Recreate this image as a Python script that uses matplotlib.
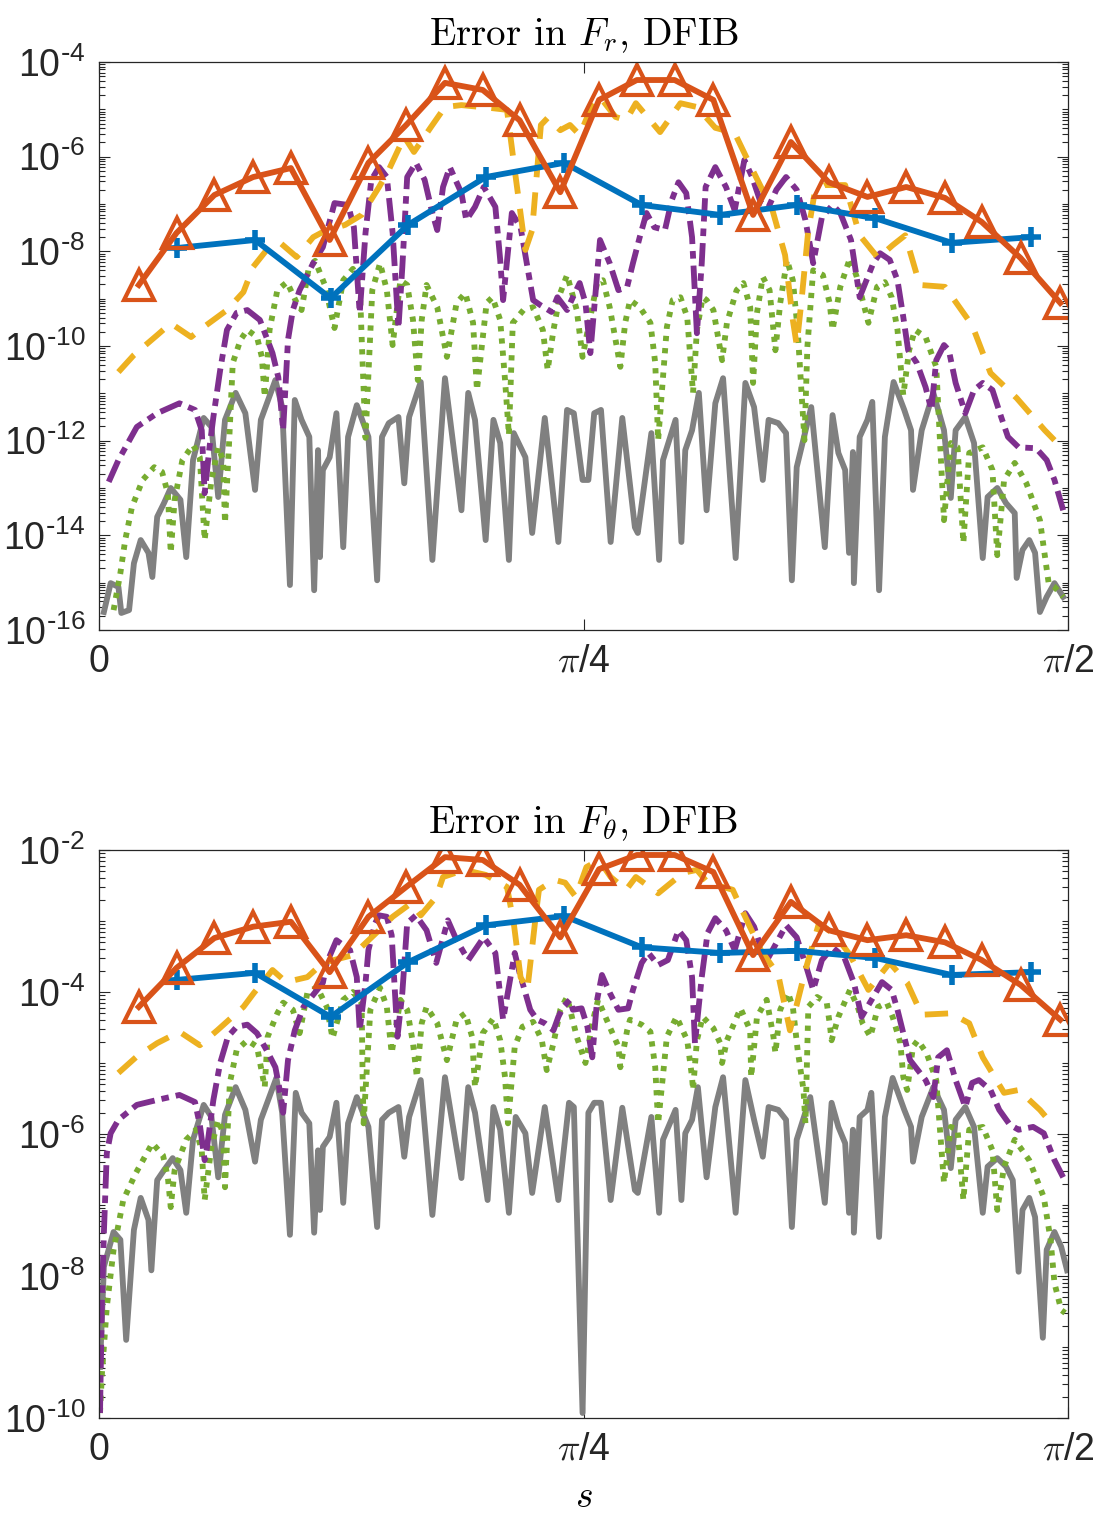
import numpy as np
import matplotlib.pyplot as plt
from matplotlib.ticker import FixedLocator, NullFormatter

plt.rcParams['font.family'] = ['Liberation Sans', 'DejaVu Sans']

# x values are fractions of pi/2, y values are log10 of the error

# ---- top panel: error in F_r ----
f_gray_r = [0.005,0.012,0.020,0.023,0.031,0.036,0.043,0.051,0.055,0.060,
            0.067,0.074,0.084,0.090,0.097,0.108,0.116,0.123,0.130,0.141,
            0.151,0.161,0.167,0.182,0.189,0.197,0.202,0.209,0.217,0.222,
            0.226,0.228,0.231,0.238,0.245,0.252,0.257,0.266,0.278,0.287,
            0.292,0.299,0.309,0.315,0.320,0.332,0.344,0.357,0.374,0.381,
            0.388,0.399,0.407,0.414,0.423,0.428,0.440,0.447,0.460,0.474,
            0.483,0.490,0.499,0.505,0.511,0.518,0.528,0.540,0.553,0.556,
            0.570,0.578,0.582,0.595,0.601,0.605,0.612,0.619,0.627,0.636,
            0.644,0.657,0.667,0.676,0.685,0.691,0.701,0.709,0.715,0.720,
            0.735,0.749,0.757,0.763,0.770,0.774,0.778,0.779,0.785,0.793,
            0.798,0.805,0.811,0.820,0.831,0.838,0.840,0.849,0.861,0.872,
            0.879,0.884,0.894,0.903,0.912,0.917,0.927,0.936,0.945,0.947,
            0.953,0.960,0.966,0.971,0.978,0.986,0.995]
lg_gray_r = [-15.62,-15.01,-15.09,-15.64,-15.58,-14.59,-14.10,-14.37,-14.88,-13.61,
             -13.32,-13.00,-13.25,-14.46,-12.41,-11.52,-11.71,-13.19,-11.56,-10.99,
             -11.42,-13.04,-11.56,-10.72,-11.29,-15.05,-11.14,-11.56,-11.92,-15.16,
             -12.20,-14.46,-12.62,-12.35,-11.42,-14.25,-11.92,-11.25,-11.92,-14.95,
             -11.92,-11.63,-11.50,-12.90,-11.50,-10.76,-14.52,-10.68,-13.47,-10.99,
             -11.56,-14.10,-11.56,-12.05,-14.52,-11.84,-12.35,-13.95,-11.52,-14.14,
             -11.35,-11.42,-12.83,-12.83,-11.42,-11.35,-14.14,-11.52,-13.83,-13.95,
             -11.84,-14.52,-12.41,-11.56,-14.14,-12.20,-11.78,-10.99,-13.47,-11.21,
             -10.68,-14.48,-10.78,-11.29,-12.83,-11.56,-11.63,-11.84,-14.95,-12.56,
             -11.29,-14.25,-11.46,-12.26,-12.62,-14.37,-12.24,-15.01,-11.92,-11.56,
             -11.18,-15.16,-11.92,-10.76,-11.35,-11.78,-13.04,-11.78,-10.99,-11.78,
             -13.21,-11.78,-11.50,-12.05,-14.48,-13.19,-13.00,-13.32,-13.53,-14.90,
             -14.31,-14.10,-14.37,-15.62,-15.30,-15.01,-15.30]

f_green_r = [0.015,0.022,0.027,0.034,0.045,0.057,0.065,0.071,0.074,0.078,
             0.086,0.097,0.104,0.109,0.116,0.123,0.128,0.130,0.134,0.138,
             0.146,0.153,0.163,0.168,0.171,0.176,0.184,0.194,0.204,0.209,
             0.216,0.223,0.233,0.243,0.252,0.262,0.269,0.272,0.275,0.282,
             0.290,0.297,0.303,0.311,0.318,0.324,0.329,0.333,0.338,0.349,
             0.359,0.369,0.378,0.386,0.390,0.400,0.406,0.414,0.419,0.423,
             0.427,0.438,0.448,0.458,0.463,0.469,0.476,0.483,0.493,0.499,
             0.507,0.514,0.520,0.527,0.538,0.543,0.548,0.558,0.569,0.574,
             0.577,0.586,0.592,0.600,0.607,0.613,0.617,0.623,0.627,0.634,
             0.643,0.648,0.658,0.665,0.672,0.675,0.679,0.685,0.692,0.698,
             0.703,0.710,0.716,0.721,0.728,0.731,0.737,0.747,0.754,0.757,
             0.765,0.775,0.782,0.788,0.794,0.803,0.811,0.818,0.824,0.830,
             0.836,0.842,0.853,0.864,0.872,0.879,0.886,0.892,0.898,0.912,
             0.922,0.927,0.934,0.945,0.957,0.971,0.980,0.986,0.995]
lg_green_r = [-15.58,-14.80,-14.10,-13.40,-12.83,-12.56,-12.66,-13.11,-14.37,-13.25,
              -12.41,-12.09,-12.35,-14.10,-12.83,-12.14,-12.41,-13.74,-12.14,-10.36,
              -9.87,-9.66,-9.81,-10.23,-11.08,-9.66,-8.82,-8.65,-9.09,-9.24,
              -8.40,-8.20,-8.71,-9.62,-8.61,-8.37,-8.67,-10.36,-11.94,-8.82,
              -8.25,-8.82,-9.98,-8.61,-8.71,-9.45,-10.72,-9.45,-8.71,-9.18,
              -10.23,-9.09,-8.88,-9.51,-10.93,-9.09,-8.97,-9.45,-10.72,-11.88,
              -9.51,-9.24,-9.18,-9.66,-10.51,-9.66,-8.88,-8.50,-9.24,-10.23,
              -9.39,-8.67,-8.61,-9.18,-10.44,-9.51,-9.03,-9.18,-9.51,-10.36,
              -11.99,-9.60,-9.03,-8.97,-9.39,-10.99,-9.66,-8.97,-9.03,-9.24,
              -10.30,-9.51,-8.82,-8.67,-9.18,-10.78,-9.30,-8.54,-8.82,-10.09,
              -9.09,-8.18,-8.61,-9.66,-11.99,-10.02,-8.40,-8.50,-9.09,-9.66,
              -8.75,-8.14,-8.54,-9.03,-9.51,-8.75,-8.65,-8.97,-9.66,-11.04,
              -10.09,-9.66,-9.81,-10.44,-13.68,-12.05,-12.14,-14.16,-12.26,-12.14,
              -12.62,-14.42,-12.83,-12.47,-12.90,-13.68,-15.01,-15.09,-15.30]

f_purple_r = [0.010,0.020,0.039,0.060,0.083,0.099,0.106,0.109,0.114,0.118,
              0.125,0.132,0.142,0.153,0.166,0.179,0.185,0.190,0.195,0.200,
              0.207,0.221,0.231,0.243,0.257,0.263,0.269,0.275,0.281,0.289,
              0.297,0.303,0.309,0.313,0.318,0.327,0.336,0.344,0.349,0.355,
              0.362,0.374,0.379,0.388,0.397,0.409,0.414,0.417,0.426,0.435,
              0.448,0.455,0.467,0.473,0.483,0.489,0.496,0.502,0.507,0.512,
              0.517,0.527,0.536,0.545,0.551,0.558,0.565,0.573,0.584,0.591,
              0.598,0.606,0.612,0.617,0.622,0.626,0.636,0.647,0.656,0.666,
              0.674,0.683,0.691,0.699,0.709,0.720,0.729,0.737,0.746,0.757,
              0.765,0.776,0.785,0.799,0.806,0.816,0.824,0.830,0.835,0.844,
              0.853,0.859,0.864,0.872,0.877,0.884,0.894,0.903,0.912,0.922,
              0.931,0.938,0.949,0.967,0.978,0.986,0.995]
lg_purple_r = [-12.87,-12.41,-11.71,-11.42,-11.21,-11.35,-11.78,-13.11,-12.14,-11.50,
               -10.51,-9.66,-9.30,-9.24,-9.45,-10.15,-10.66,-11.78,-9.87,-9.24,
               -8.82,-8.25,-7.91,-6.98,-7.02,-7.49,-9.30,-7.61,-6.49,-6.22,
               -6.43,-7.61,-9.62,-8.33,-6.43,-6.13,-6.49,-7.19,-7.55,-6.64,
               -6.22,-6.77,-7.34,-7.06,-6.64,-7.06,-8.18,-9.03,-7.19,-7.49,
               -9.03,-9.13,-9.28,-8.97,-9.24,-8.97,-8.67,-9.09,-10.15,-8.97,
               -7.76,-8.25,-8.82,-8.75,-8.25,-7.70,-7.19,-7.49,-7.55,-6.92,
               -6.54,-6.77,-7.70,-9.73,-8.25,-6.64,-6.22,-6.64,-7.13,-6.07,
               -6.43,-6.98,-7.06,-6.70,-6.43,-6.70,-7.34,-8.25,-7.28,-7.02,
               -7.19,-7.76,-8.97,-8.25,-8.04,-8.18,-8.61,-9.39,-10.09,-10.36,
               -10.87,-11.35,-10.30,-9.98,-10.09,-10.78,-11.42,-10.93,-10.78,-10.93,
               -11.50,-11.92,-12.14,-12.16,-12.41,-12.83,-13.47]

f_yellow_r = [0.020,0.036,0.060,0.074,0.095,0.104,0.132,0.149,0.159,0.173,
              0.187,0.204,0.221,0.231,0.254,0.271,0.289,0.299,0.315,0.325,
              0.342,0.357,0.374,0.404,0.421,0.429,0.440,0.447,0.456,0.463,
              0.476,0.486,0.496,0.507,0.517,0.533,0.544,0.554,0.579,0.600,
              0.617,0.636,0.656,0.672,0.695,0.708,0.716,0.720,0.725,0.732,
              0.739,0.749,0.770,0.785,0.804,0.819,0.832,0.847,0.873,0.901,
              0.920,0.947,0.976,0.986]
lg_yellow_r = [-10.55,-10.19,-9.77,-9.52,-9.81,-9.66,-9.24,-8.86,-8.33,-7.97,
               -7.82,-8.12,-7.70,-7.59,-7.44,-7.23,-6.64,-6.28,-5.58,-5.90,
               -5.39,-4.95,-4.91,-4.97,-5.01,-6.28,-7.97,-7.55,-5.33,-5.18,
               -5.44,-5.33,-5.54,-5.01,-4.74,-5.16,-5.23,-4.87,-5.48,-4.87,
               -4.95,-5.39,-5.50,-6.18,-7.13,-8.08,-9.45,-9.98,-9.03,-7.55,
               -6.70,-6.60,-6.60,-7.66,-8.14,-7.87,-7.66,-8.71,-8.75,-9.56,
               -10.57,-11.10,-11.78,-11.99]

f_blue = [0.080,0.161,0.239,0.319,0.399,0.480,0.560,0.641,0.720,0.801,0.880,0.962]
lg_blue_r = [-7.93,-7.76,-8.99,-7.44,-6.43,-6.13,-7.02,-7.23,-7.02,-7.30,-7.82,-7.70]

f_tri = [0.041,0.080,0.119,0.159,0.198,0.238,0.278,0.317,0.357,0.396,0.434,0.476,0.516,
         0.555,0.594,0.634,0.675,0.714,0.753,0.793,0.833,0.873,0.911,0.951,0.992]
lg_tri_r = [-8.71,-7.61,-6.81,-6.43,-6.24,-7.76,-6.13,-5.33,-4.44,-4.59,-5.23,-6.75,-4.80,
            -4.38,-4.38,-4.80,-7.23,-5.69,-6.54,-6.85,-6.64,-6.87,-7.38,-8.14,-9.09]

# ---- bottom panel: error in F_theta ----
f_gray_t = [0.001,0.005,0.015,0.022,0.028,0.036,0.043,0.051,0.054,0.060,
            0.067,0.076,0.084,0.090,0.097,0.108,0.116,0.123,0.130,0.141,
            0.151,0.161,0.167,0.183,0.189,0.197,0.203,0.209,0.217,0.222,
            0.226,0.228,0.231,0.238,0.245,0.252,0.257,0.266,0.278,0.287,
            0.292,0.299,0.309,0.315,0.320,0.332,0.344,0.357,0.374,0.381,
            0.388,0.401,0.407,0.414,0.423,0.430,0.440,0.447,0.460,0.474,
            0.485,0.490,0.499,0.505,0.511,0.518,0.528,0.540,0.553,0.556,
            0.570,0.578,0.582,0.595,0.601,0.605,0.612,0.618,0.627,0.636,
            0.644,0.657,0.667,0.676,0.685,0.691,0.701,0.709,0.715,0.720,
            0.734,0.749,0.756,0.763,0.770,0.774,0.778,0.779,0.785,0.793,
            0.797,0.805,0.811,0.819,0.831,0.838,0.840,0.849,0.861,0.872,
            0.879,0.884,0.894,0.903,0.912,0.917,0.927,0.936,0.943,0.949,
            0.953,0.960,0.966,0.974,0.978,0.986,0.993,0.999]
lg_gray_t = [-9.28,-7.87,-7.38,-7.49,-8.90,-7.35,-6.90,-7.21,-7.92,-6.65,
             -6.51,-6.34,-6.51,-7.11,-6.08,-5.59,-5.76,-6.61,-5.73,-5.34,
             -5.66,-6.39,-5.80,-5.21,-5.70,-7.42,-5.42,-5.70,-5.85,-7.39,
             -6.23,-7.07,-6.18,-6.04,-5.56,-6.97,-5.85,-5.48,-5.90,-7.31,
             -5.80,-5.70,-5.62,-6.32,-5.76,-5.24,-7.14,-5.20,-6.62,-5.34,
             -5.70,-6.93,-5.62,-5.94,-7.11,-5.76,-5.99,-6.83,-5.62,-6.93,
             -5.56,-5.62,-9.93,-5.70,-5.56,-5.56,-6.93,-5.63,-6.79,-6.83,
             -5.76,-7.11,-6.08,-5.66,-6.93,-5.99,-5.80,-5.34,-6.61,-5.62,
             -5.20,-7.11,-5.24,-5.80,-6.32,-5.62,-5.66,-5.80,-7.31,-6.08,
             -5.48,-6.97,-5.56,-5.90,-6.13,-7.11,-5.94,-7.39,-5.76,-5.66,
             -5.42,-7.45,-5.76,-5.21,-5.66,-5.90,-6.39,-5.76,-5.34,-5.66,
             -6.48,-5.80,-5.62,-5.90,-7.11,-6.46,-6.34,-6.46,-6.65,-7.94,
             -7.07,-6.90,-7.17,-8.87,-7.63,-7.38,-7.59,-7.92]

f_green_t = [0.001,0.003,0.008,0.015,0.025,0.038,0.055,0.066,0.071,0.074,
             0.078,0.090,0.100,0.106,0.109,0.116,0.123,0.128,0.130,0.135,
             0.142,0.153,0.163,0.169,0.171,0.174,0.184,0.190,0.200,0.207,
             0.215,0.225,0.235,0.241,0.252,0.262,0.271,0.272,0.273,0.280,
             0.290,0.297,0.302,0.311,0.318,0.324,0.328,0.333,0.338,0.349,
             0.359,0.369,0.378,0.385,0.388,0.396,0.407,0.414,0.419,0.422,
             0.429,0.437,0.448,0.457,0.462,0.469,0.476,0.483,0.493,0.502,
             0.509,0.515,0.527,0.536,0.538,0.545,0.548,0.560,0.569,0.574,
             0.577,0.586,0.596,0.607,0.612,0.613,0.617,0.623,0.634,0.641,
             0.643,0.648,0.662,0.672,0.673,0.679,0.689,0.696,0.698,0.703,
             0.711,0.716,0.721,0.727,0.729,0.732,0.741,0.751,0.754,0.756,
             0.763,0.775,0.783,0.788,0.796,0.804,0.813,0.819,0.827,0.830,
             0.834,0.840,0.845,0.854,0.864,0.872,0.879,0.886,0.892,0.898,
             0.912,0.922,0.927,0.934,0.945,0.960,0.975,0.982,0.986,0.993,0.997]
lg_green_t = [-9.93,-9.37,-8.44,-7.63,-6.93,-6.55,-6.13,-6.30,-6.61,-7.03,
              -6.51,-6.08,-5.94,-6.23,-6.93,-6.18,-5.80,-5.99,-6.75,-5.28,
              -4.82,-4.68,-4.77,-5.20,-5.34,-4.63,-4.30,-4.15,-4.25,-4.58,
              -4.01,-3.93,-4.21,-4.65,-4.11,-4.00,-4.15,-5.20,-5.85,-4.25,
              -3.94,-4.21,-4.86,-4.11,-4.25,-4.72,-5.20,-4.44,-4.21,-4.44,
              -4.96,-4.39,-4.30,-4.63,-5.34,-4.58,-4.37,-4.68,-5.20,-5.85,
              -4.77,-4.49,-4.42,-4.68,-5.10,-4.72,-4.25,-4.07,-4.63,-5.00,
              -4.44,-4.11,-4.49,-4.77,-5.06,-4.54,-4.39,-4.46,-4.56,-5.06,
              -5.85,-4.63,-4.35,-4.68,-5.20,-5.38,-4.68,-4.35,-4.51,-4.72,
              -5.00,-4.68,-4.23,-4.54,-5.20,-4.35,-4.11,-4.63,-4.86,-4.25,
              -4.01,-4.21,-4.82,-5.38,-5.85,-4.21,-4.07,-4.15,-4.44,-4.68,
              -4.35,-3.97,-4.21,-4.44,-4.63,-4.21,-4.15,-4.35,-4.72,-5.20,
              -5.38,-4.77,-4.68,-4.86,-5.24,-6.69,-5.90,-5.94,-6.93,-5.94,
              -5.90,-6.23,-7.07,-6.46,-6.08,-6.37,-6.89,-7.49,-8.10,-8.48,-8.52]

f_purple_t = [0.001,0.003,0.005,0.008,0.012,0.020,0.039,0.060,0.083,0.099,
              0.104,0.109,0.111,0.118,0.125,0.133,0.142,0.153,0.163,0.173,
              0.182,0.187,0.190,0.195,0.202,0.211,0.225,0.231,0.235,0.245,
              0.259,0.266,0.269,0.275,0.278,0.285,0.289,0.297,0.302,0.308,
              0.313,0.318,0.327,0.338,0.348,0.360,0.369,0.381,0.388,0.397,
              0.409,0.417,0.429,0.434,0.445,0.452,0.460,0.469,0.474,0.479,
              0.486,0.489,0.498,0.504,0.509,0.514,0.519,0.527,0.536,0.546,
              0.551,0.560,0.567,0.577,0.587,0.598,0.606,0.612,0.615,0.622,
              0.628,0.636,0.647,0.656,0.667,0.676,0.683,0.691,0.709,0.720,
              0.730,0.737,0.746,0.757,0.769,0.779,0.787,0.799,0.808,0.818,
              0.824,0.830,0.837,0.845,0.853,0.861,0.866,0.875,0.884,0.894,
              0.901,0.908,0.920,0.929,0.940,0.949,0.964,0.975,0.986,0.995]
lg_purple_t = [-9.93,-8.34,-7.39,-6.27,-5.99,-5.80,-5.59,-5.52,-5.45,-5.55,
               -5.87,-6.37,-6.23,-5.52,-5.00,-4.63,-4.49,-4.46,-4.58,-4.82,
               -5.06,-5.42,-5.70,-4.96,-4.54,-4.21,-3.97,-3.87,-3.59,-3.27,
               -3.41,-3.79,-4.54,-3.87,-3.41,-3.03,-2.92,-2.94,-3.20,-4.63,
               -4.01,-3.03,-2.92,-3.13,-3.59,-2.99,-3.27,-3.55,-3.41,-3.23,
               -3.45,-4.39,-3.45,-3.73,-4.25,-4.39,-4.44,-4.54,-4.35,-4.21,
               -4.11,-4.25,-4.23,-4.49,-4.92,-4.11,-3.76,-4.01,-4.25,-4.23,
               -3.97,-3.59,-3.45,-3.62,-3.55,-3.13,-3.27,-3.79,-4.72,-3.79,
               -3.17,-2.96,-3.13,-3.41,-2.89,-3.08,-3.37,-3.51,-3.06,-3.23,
               -3.65,-3.97,-3.55,-3.37,-3.51,-3.87,-4.35,-4.07,-3.86,-3.97,
               -4.25,-4.58,-4.96,-5.10,-5.24,-5.48,-4.92,-4.82,-5.24,-5.62,
               -5.28,-5.24,-5.38,-5.66,-5.87,-5.94,-5.90,-5.99,-6.37,-6.61]

f_yellow_t = [0.020,0.038,0.060,0.083,0.104,0.122,0.149,0.160,0.179,0.193,
              0.215,0.231,0.262,0.289,0.303,0.322,0.332,0.348,0.355,0.377,
              0.399,0.421,0.428,0.435,0.442,0.451,0.454,0.470,0.481,0.492,
              0.503,0.516,0.528,0.544,0.554,0.577,0.603,0.617,0.628,0.654,
              0.662,0.683,0.701,0.713,0.720,0.729,0.743,0.760,0.775,0.794,
              0.816,0.834,0.849,0.879,0.898,0.912,0.934,0.949,0.971,0.986]
lg_yellow_t = [-5.14,-4.92,-4.72,-4.56,-4.75,-4.54,-4.21,-4.01,-3.69,-3.86,
               -3.79,-3.59,-3.48,-3.13,-2.94,-2.75,-2.92,-2.66,-2.38,-2.28,
               -2.35,-2.52,-3.03,-3.79,-3.97,-2.89,-2.56,-2.42,-2.46,-2.66,
               -2.24,-2.14,-2.38,-2.56,-2.38,-2.61,-2.32,-2.28,-2.46,-2.56,
               -2.80,-3.41,-3.76,-4.54,-4.18,-3.69,-3.03,-3.20,-3.48,-3.97,
               -3.59,-3.87,-4.32,-4.30,-4.44,-4.92,-5.42,-5.38,-5.66,-5.90]

lg_blue_t = [-3.83,-3.73,-4.35,-3.58,-3.06,-2.93,-3.37,-3.45,-3.42,-3.52,-3.76,-3.72]
lg_tri_t = [-4.21,-3.66,-3.24,-3.08,-3.01,-3.72,-2.94,-2.52,-2.10,-2.14,-2.49,-3.23,-2.27,
            -2.07,-2.07,-2.31,-3.48,-2.73,-3.13,-3.27,-3.20,-3.30,-3.55,-3.90,-4.39]

blue = '#0072BD'
orange = '#D95319'
yellow = '#EDB120'
purple = '#7E2F8E'
green = '#77AC30'
gray = (0.5, 0.5, 0.5)


def xs(f):
    return np.array(f) * np.pi / 2


def ys(lg):
    return 10.0 ** np.array(lg)


def panel(ax, gray_d, green_d, purple_d, yellow_d, lg_blue, lg_tri, ylo, yhi, title):
    lw = 4.2
    ax.plot(xs(gray_d[0]), ys(gray_d[1]), color=gray, lw=lw)
    ax.plot(xs(green_d[0]), ys(green_d[1]), color=green, lw=lw, dashes=(0.9, 1.2))
    ax.plot(xs(purple_d[0]), ys(purple_d[1]), color=purple, lw=lw, dashes=(4.0, 1.2, 1.3, 1.2))
    ax.plot(xs(yellow_d[0]), ys(yellow_d[1]), color=yellow, lw=lw, dashes=(4.0, 2.6))
    ax.plot(xs(f_blue), ys(lg_blue), color=blue, lw=lw, marker='+', ms=14, mew=4)
    ax.plot(xs(f_tri), ys(lg_tri), color=orange, lw=lw, marker='^', ms=21, mew=3,
            mfc='none')

    ax.set_yscale('log')
    ax.set_xlim(0, np.pi / 2)
    ax.set_ylim(10.0 ** ylo, 10.0 ** yhi)
    exps = list(range(ylo, yhi + 1, 2))
    major = [10.0 ** e for e in exps]
    ax.yaxis.set_major_locator(FixedLocator(major))
    ax.set_yticklabels([r'$\mathregular{10^{\text{-}%d}}$' % (-e) for e in exps])
    minor = [m * 10.0 ** e for e in range(ylo, yhi) for m in range(1, 10)]
    minor = [v for v in minor if v not in major]
    ax.yaxis.set_minor_locator(FixedLocator(minor))
    ax.yaxis.set_minor_formatter(NullFormatter())

    ax.set_xticks([0, np.pi / 4, np.pi / 2])
    ax.set_xticklabels(['0', r'$\pi$/4', r'$\pi$/2'])
    for lab in ax.get_xticklabels():
        lab.set_math_fontfamily('cm')

    ax.tick_params(which='both', direction='in', top=True, right=True,
                   labelsize=27, colors='#262626', width=0.8)
    ax.tick_params(which='major', length=8, pad=10)
    ax.tick_params(which='minor', length=4)
    for sp in ax.spines.values():
        sp.set_linewidth(0.9)
        sp.set_color('#262626')
    t = ax.set_title(title, fontsize=28, pad=12, family='cmr10')
    t.set_math_fontfamily('cm')


fig = plt.figure(figsize=(10.98, 15.28), dpi=100)
ax1 = fig.add_axes([0.0902, 0.5877, 0.8825, 0.3717])
ax2 = fig.add_axes([0.0902, 0.0720, 0.8825, 0.3717])

panel(ax1, (f_gray_r, lg_gray_r), (f_green_r, lg_green_r), (f_purple_r, lg_purple_r),
      (f_yellow_r, lg_yellow_r), lg_blue_r, lg_tri_r, -16, -4,
      r'Error in $F_r$, DFIB')
panel(ax2, (f_gray_t, lg_gray_t), (f_green_t, lg_green_t), (f_purple_t, lg_purple_t),
      (f_yellow_t, lg_yellow_t), lg_blue_t, lg_tri_t, -10, -2,
      r'Error in $F_\theta$, DFIB')

xl = ax2.set_xlabel(r'$s$', fontsize=27, labelpad=8)
xl.set_math_fontfamily('cm')

fig.savefig('out.png', dpi=100)
